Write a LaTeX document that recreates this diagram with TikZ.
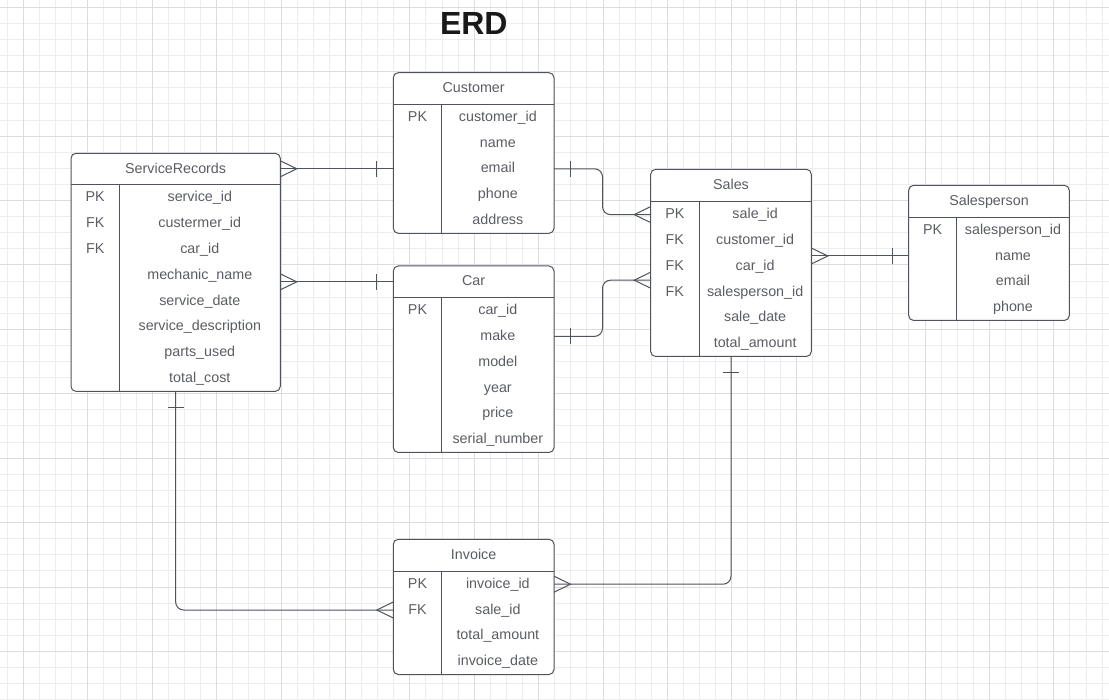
\documentclass[tikz,border=0pt]{standalone}
\usepackage{fontspec}
\setmainfont{Liberation Sans}

\definecolor{erline}{HTML}{4F535B}
\definecolor{ertext}{HTML}{5A5D63}
\definecolor{gridminor}{HTML}{EDEDED}
\definecolor{gridmajor}{HTML}{DCDCDC}

\tikzset{
  entity/.style={draw=erline, line width=1pt, rounded corners=5pt, fill=white,
                 inner sep=0pt, outer sep=0pt, anchor=north west},
  erlink/.style={draw=erline, line width=1pt, rounded corners=8pt},
  ertick/.style={draw=erline, line width=1pt},
  erlabel/.style={text=ertext, font=\fontsize{14.3}{16}\selectfont,
                  text height=10.2pt, text depth=2pt, inner sep=0pt},
  ertitle/.style={text=black!90, font=\fontsize{32}{36}\selectfont\bfseries,
                  inner sep=0pt, anchor=base}
}

\begin{document}
\begin{tikzpicture}[x=1pt,y=-1pt]
                \useasboundingbox (0,0) rectangle (1109,700);
                {

                % Drawing background grid
                \begin{scope}
                \clip (0,0) rectangle (1109,700);
                \fill[white] (0,0) rectangle (1109,700);
                \draw[gridminor, line width=0.8pt, step=16.1pt, shift={(23.3,7.3)}] (-40,-40) grid (1100,710);
                \draw[gridmajor, line width=0.8pt, step=64.4pt, shift={(23.3,7.3)}] (-80,-80) grid (1100,710);
                \end{scope}

                % Marking title
                \node[ertitle] (erd) at (473.8,35) {ERD};

                % Drawing entity ServiceRecords
                \node[entity, minimum width=209.3pt, minimum height=238.1pt] (svc) at (71,153.3) {};%
                \draw[ertick] (71,185) -- (280.3,185);%
                \draw[ertick] (119.3,185) -- (119.3,391.4);%
                \node[erlabel] (svc-head) at (175.65,169.15) {ServiceRecords};
                \node[erlabel] (svc-k1) at (95.2,197.9) {PK};
                \node[erlabel] (svc-k2) at (95.2,223.7) {FK};
                \node[erlabel] (svc-k3) at (95.2,249.5) {FK};
                \node[erlabel] (svc-id) at (199.8,197.9) {service\_id};
                \node[erlabel] (svc-cust) at (199.8,223.7) {custermer\_id};
                \node[erlabel] (svc-car) at (199.8,249.5) {car\_id};
                \node[erlabel] (svc-mech) at (199.8,275.3) {mechanic\_name};
                \node[erlabel] (svc-date) at (199.8,301.1) {service\_date};
                \node[erlabel] (svc-desc) at (199.8,326.9) {service\_description};
                \node[erlabel] (svc-parts) at (199.8,352.7) {parts\_used};
                \node[erlabel] (svc-cost) at (199.8,378.5) {total\_cost};

                % Drawing entity Customer
                \node[entity, minimum width=160.7pt, minimum height=160.6pt] (cust) at (393.3,72.7) {};%
                \draw[ertick] (393.3,104.3) -- (554,104.3);%
                \draw[ertick] (441.7,104.3) -- (441.7,233.3);%
                \node[erlabel] (cust-head) at (473.65,88.5) {Customer};
                \node[erlabel] (cust-k1) at (417.5,117.2) {PK};
                \node[erlabel] (cust-id) at (497.85,117.2) {customer\_id};
                \node[erlabel] (cust-name) at (497.85,143) {name};
                \node[erlabel] (cust-email) at (497.85,168.8) {email};
                \node[erlabel] (cust-phone) at (497.85,194.6) {phone};
                \node[erlabel] (cust-addr) at (497.85,220.4) {address};

                % Drawing entity Car
                \node[entity, minimum width=160.7pt, minimum height=186.5pt] (car) at (393.3,266) {};%
                \draw[ertick] (393.3,297.7) -- (554,297.7);%
                \draw[ertick] (441.7,297.7) -- (441.7,452.5);%
                \node[erlabel] (car-head) at (473.65,281.85) {Car};
                \node[erlabel] (car-k1) at (417.5,310.6) {PK};
                \node[erlabel] (car-id) at (497.85,310.6) {car\_id};
                \node[erlabel] (car-make) at (497.85,336.4) {make};
                \node[erlabel] (car-model) at (497.85,362.2) {model};
                \node[erlabel] (car-year) at (497.85,388) {year};
                \node[erlabel] (car-price) at (497.85,413.8) {price};
                \node[erlabel] (car-serial) at (497.85,439.6) {serial\_number};

                % Drawing entity Sales
                \node[entity, minimum width=160.6pt, minimum height=187.2pt] (sales) at (650.7,169.3) {};%
                \draw[ertick] (650.7,201.7) -- (811.3,201.7);%
                \draw[ertick] (699,201.7) -- (699,356.5);%
                \node[erlabel] (sales-head) at (731,185.5) {Sales};
                \node[erlabel] (sales-k1) at (674.85,214.6) {PK};
                \node[erlabel] (sales-k2) at (674.85,240.4) {FK};
                \node[erlabel] (sales-k3) at (674.85,266.2) {FK};
                \node[erlabel] (sales-k4) at (674.85,292) {FK};
                \node[erlabel] (sales-id) at (755.15,214.6) {sale\_id};
                \node[erlabel] (sales-cust) at (755.15,240.4) {customer\_id};
                \node[erlabel] (sales-car) at (755.15,266.2) {car\_id};
                \node[erlabel] (sales-sp) at (755.15,292) {salesperson\_id};
                \node[erlabel] (sales-date) at (755.15,317.8) {sale\_date};
                \node[erlabel] (sales-total) at (755.15,343.6) {total\_amount};
                \coordinate (sales-carin) at ([yshift=-14pt]sales-car.center);

                % Drawing entity Salesperson
                \node[entity, minimum width=160.6pt, minimum height=135.2pt] (sp) at (908.7,185.3) {};%
                \draw[ertick] (908.7,217.3) -- (1069.3,217.3);%
                \draw[ertick] (956.7,217.3) -- (956.7,320.5);%
                \node[erlabel] (sp-head) at (989,201.3) {Salesperson};
                \node[erlabel] (sp-k1) at (932.7,230.2) {PK};
                \node[erlabel] (sp-id) at (1013,230.2) {salesperson\_id};
                \node[erlabel] (sp-name) at (1013,256) {name};
                \node[erlabel] (sp-email) at (1013,281.8) {email};
                \node[erlabel] (sp-phone) at (1013,307.6) {phone};

                % Drawing entity Invoice
                \node[entity, minimum width=160.7pt, minimum height=135.2pt] (inv) at (393.3,539.3) {};%
                \draw[ertick] (393.3,571.3) -- (554,571.3);%
                \draw[ertick] (441.7,571.3) -- (441.7,674.5);%
                \node[erlabel] (inv-head) at (473.65,555.3) {Invoice};
                \node[erlabel] (inv-k1) at (417.5,584.2) {PK};
                \node[erlabel] (inv-k2) at (417.5,610) {FK};
                \node[erlabel] (inv-id) at (497.85,584.2) {invoice\_id};
                \node[erlabel] (inv-sale) at (497.85,610) {sale\_id};
                \node[erlabel] (inv-total) at (497.85,635.8) {total\_amount};
                \node[erlabel] (inv-date) at (497.85,661.6) {invoice\_date};

                % Drawing link ServiceRecords Customer
                \draw[erlink] (svc.east |- cust-email) -- (cust.west |- cust-email);%
                \draw[ertick] (svc.east |- cust-email) ++(0,-8) -- ++(16.5,8) -- ++(-16.5,8);%
                \draw[ertick] (cust.west |- cust-email) ++(-16.5,-8) -- ++(0,16);%

                % Drawing link ServiceRecords Car
                \draw[erlink] (svc.east |- car-head) -- (car.west |- car-head);%
                \draw[ertick] (svc.east |- car-head) ++(0,-8) -- ++(16.5,8) -- ++(-16.5,8);%
                \draw[ertick] (car.west |- car-head) ++(-16.5,-8) -- ++(0,16);%

                % Drawing link Customer Sales
                \draw[erlink] (cust.east |- cust-email) -- ++(48.5,0) |- (sales.west |- sales-id);%
                \draw[ertick] (cust.east |- cust-email) ++(16.5,-8) -- ++(0,16);%
                \draw[ertick] (sales.west |- sales-id) ++(0,-8) -- ++(-16.5,8) -- ++(16.5,8);%

                % Drawing link Car Sales
                \draw[erlink] (car.east |- car-make) -- ++(48.5,0) |- (sales.west |- sales-carin);%
                \draw[ertick] (car.east |- car-make) ++(16.5,-8) -- ++(0,16);%
                \draw[ertick] (sales.west |- sales-carin) ++(0,-8) -- ++(-16.5,8) -- ++(16.5,8);%

                % Drawing link Sales Salesperson
                \draw[erlink] (sales.east |- sp-name) -- (sp.west |- sp-name);%
                \draw[ertick] (sales.east |- sp-name) ++(0,-8) -- ++(16.5,8) -- ++(-16.5,8);%
                \draw[ertick] (sp.west |- sp-name) ++(-16.5,-8) -- ++(0,16);%

                % Drawing link ServiceRecords Invoice
                \draw[erlink] (svc.south) |- (inv.west |- inv-sale);%
                \draw[ertick] (svc.south) ++(-8,16) -- ++(16,0);%
                \draw[ertick] (inv.west |- inv-sale) ++(0,-8) -- ++(-16.5,8) -- ++(16.5,8);%

                % Drawing link Sales Invoice
                \draw[erlink] (sales.south) |- (inv.east |- inv-id);%
                \draw[ertick] (sales.south) ++(-8,16) -- ++(16,0);%
                \draw[ertick] (inv.east |- inv-id) ++(0,-8) -- ++(16.5,8) -- ++(-16.5,8);%
                }
            \end{tikzpicture}
\end{document}
